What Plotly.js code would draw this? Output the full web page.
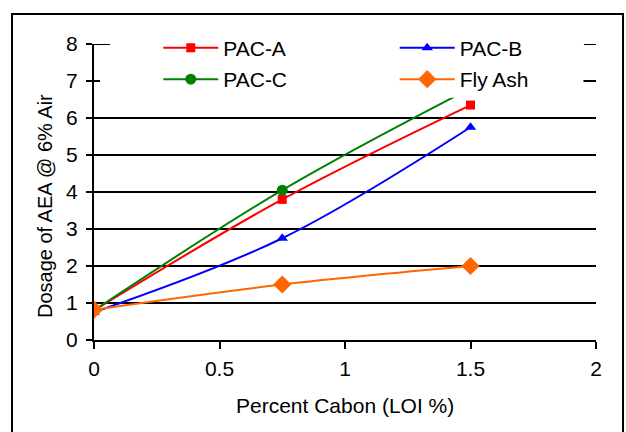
<!DOCTYPE html>
<html><head><meta charset="utf-8">
<script src="https://cdn.plot.ly/plotly-3.0.1.min.js"></script>
<style>html,body{margin:0;padding:0;background:#fff}#chart{width:626px;height:432px}</style>
</head><body><div id="chart"></div>
<script>
const loi = [0, 0.75, 1.5];
const pacA = [0.8, 3.8, 6.35];
const pacB = [0.75, 2.75, 5.75];
const pacC = [0.8, 4.05, 6.8];
const flyAsh = [0.82, 1.5, 2.0];
const seriesNames = ['PAC-A', 'PAC-B', 'PAC-C', 'Fly Ash'];
const xTicks = [0, 0.5, 1, 1.5, 2];
const yTicks = [0, 1, 2, 3, 4, 5, 6, 7, 8];

const FONT = 'Liberation Sans, Arial, sans-serif';
const FS = 21;
function tr(name, y, color, symbol, size, legend, group) {
  return {x: loi, y: y, name: name, type: 'scatter', mode: 'lines+markers',
    line: {color: color, width: 2, shape: 'spline', smoothing: 1},
    marker: {color: color, symbol: symbol, size: size},
    legend: legend, legendgroup: group};
}
const data = [
  tr(seriesNames[0], pacA, '#FF0000', 'square', 9, 'legend', 'a'),
  tr(seriesNames[1], pacB, '#0000FF', 'triangle-up', 10, 'legend2', 'b'),
  tr(seriesNames[2], pacC, '#008000', 'circle', 11, 'legend', 'c'),
  tr(seriesNames[3], flyAsh, '#FF6600', 'diamond', 14, 'legend2', 'd')
];
const legCommon = {orientation: 'v', bgcolor: 'rgba(0,0,0,0)', font: {family: FONT, size: FS, color: '#000'},
  traceorder: 'grouped', tracegroupgap: 1, yanchor: 'top', y: 1.055, itemwidth: 55};
const layout = {
  width: 626, height: 432,
  margin: {l: 94, r: 30, t: 44, b: 92},
  paper_bgcolor: '#fff', plot_bgcolor: '#fff',
  font: {family: FONT, size: FS, color: '#000'},
  showlegend: true,
  legend: Object.assign({}, legCommon, {x: 0.128, xanchor: 'left'}),
  legend2: Object.assign({}, legCommon, {x: 0.599, xanchor: 'left'}),
  xaxis: {range: [0, 2], tickvals: xTicks, ticks: 'outside', ticklen: 7, tickwidth: 2, tickcolor: '#000',
    showline: true, linewidth: 2, linecolor: '#000', showgrid: false, zeroline: false,
    tickfont: {family: FONT, size: FS}, ticklabelstandoff: 2},
  yaxis: {range: [0, 8], tickvals: yTicks, ticks: 'outside', ticklen: 6, tickwidth: 2, tickcolor: '#000',
    showline: true, linewidth: 2, linecolor: '#000', showgrid: true, gridcolor: '#000', gridwidth: 2,
    zeroline: false, tickfont: {family: FONT, size: FS}, ticklabelstandoff: 4},
  yaxis2: {range: [-0.03, 8.03], tickvals: yTicks, overlaying: 'y', side: 'left', ticks: 'inside', ticklen: 6, tickwidth: 2,
    tickcolor: '#000', showticklabels: false, showgrid: false, zeroline: false, showline: false},
  yaxis3: {range: [0, 8], tickvals: yTicks, overlaying: 'y', side: 'right', ticks: 'inside', ticklen: 12, tickwidth: 2,
    tickcolor: '#000', showticklabels: false, showgrid: false, zeroline: false, showline: true, linewidth: 2, linecolor: '#000'},
  shapes: [
    {type: 'rect', xref: 'x', yref: 'paper', x0: 0.024, x1: 1.95, y0: 0.818, y1: 1.0, fillcolor: '#fff',
      line: {width: 0}, layer: 'above'},
    {type: 'line', xref: 'x', yref: 'y', x0: 1.952, x1: 2, y0: 8, y1: 8, line: {color: '#000', width: 2}, layer: 'above'},
    {type: 'line', xref: 'x', yref: 'y', x0: 0, x1: 0.064, y0: 8, y1: 8, line: {color: '#000', width: 2}, layer: 'above'},
    {type: 'rect', xref: 'paper', yref: 'paper', x0: -0.1633, x1: 1.0538, y0: -0.4, y1: 1.1014,
      fillcolor: 'rgba(0,0,0,0)', line: {color: '#000', width: 2}, layer: 'above'}
  ],
  annotations: [
    {text: 'Percent Cabon (LOI %)', xref: 'paper', yref: 'paper', x: 0.5, y: (340 - 405) / 296,
      showarrow: false, xanchor: 'center', yanchor: 'middle', font: {family: FONT, size: FS}},
    {text: 'Dosage of AEA @ 6% Air', xref: 'paper', yref: 'paper', x: (45 - 94) / 502, y: (340 - 206) / 296,
      showarrow: false, textangle: -90, xanchor: 'center', yanchor: 'middle', font: {family: FONT, size: 20}}
  ]
};
Plotly.newPlot('chart', data, layout, {displayModeBar: false, staticPlot: true});
</script></body></html>
